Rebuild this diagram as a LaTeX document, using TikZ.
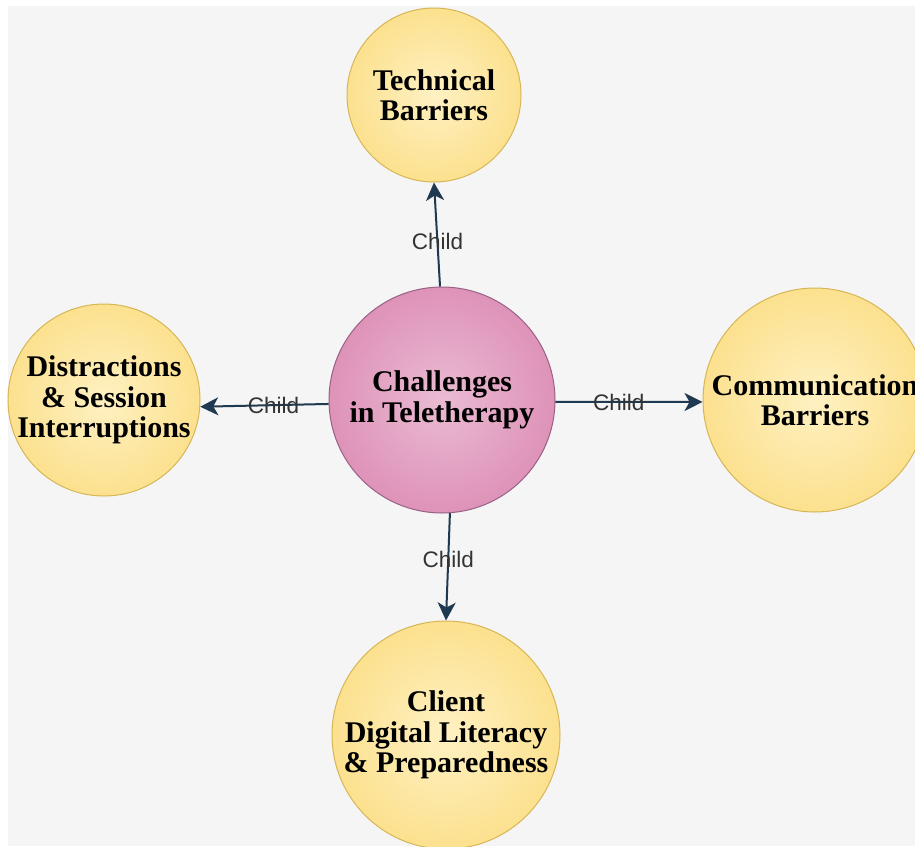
\documentclass[tikz,border=0pt]{standalone}
\usepackage{fontspec}
\setmainfont{Liberation Serif}
\newfontfamily\labelfont{Liberation Sans}
\usetikzlibrary{arrows.meta}

\definecolor{canvas}{HTML}{F5F5F5}
\definecolor{ylight}{HTML}{FEF1C2}
\definecolor{ymid}{HTML}{FBDD84}
\definecolor{ydark}{HTML}{F8CF5A}
\definecolor{yline}{HTML}{D6B656}
\definecolor{plight}{HTML}{EABBD3}
\definecolor{pmid}{HTML}{DC8AB3}
\definecolor{pdark}{HTML}{D5739D}
\definecolor{pline}{HTML}{996185}
\definecolor{edgecol}{HTML}{1F3A50}
\definecolor{lblcol}{HTML}{333333}

% radial fills: light centre, deeper rim
\pgfdeclareradialshading{yellowball}{\pgfpoint{0bp}{0bp}}{color(0bp)=(ylight); color(30bp)=(ymid); color(50bp)=(ydark); color(100bp)=(ydark)}
\pgfdeclareradialshading{pinkball}{\pgfpoint{0bp}{0bp}}{color(0bp)=(plight); color(30bp)=(pmid); color(50bp)=(pdark); color(100bp)=(pdark)}

\tikzset{
  topic/.style={circle, inner sep=0pt, draw=yline, line width=1pt, shading=yellowball},
  hub/.style={circle, inner sep=0pt, draw=pline, line width=1pt, shading=pinkball},
  title/.style={font=\fontsize{30}{30.5}\selectfont\bfseries, align=center, text=black, inner sep=0pt},
  edge/.style={draw=edgecol, line width=2pt, -{Stealth[length=18pt,width=18pt,inset=5pt]}},
  lbl/.style={font=\labelfont\fontsize{22.5}{24}\selectfont, text=lblcol, inner sep=0pt, pos=0.43}
}

\begin{document}
\begin{tikzpicture}[x=1pt, y=-1pt]
  \useasboundingbox (0,0) rectangle (915,846);
  \clip (0,0) rectangle (915,846);
  \fill[white] (0,0) rectangle (915,846);
  \fill[canvas] (8,6) rectangle (915,846);

  % central topic
  \node[hub, minimum size=226pt, label={[title]center:{Challenges\\in Teletherapy}}] (core) at (442,400) {};

  % surrounding topics
  \node[topic, minimum size=174pt, label={[title]center:{Technical\\Barriers}}] (tech) at (434,95) {};
  \node[topic, minimum size=224pt, label={[title]center:{Communication\\Barriers}}] (comm) at (815,400) {};
  \node[topic, minimum size=192pt, label={[title]center:{Distractions\\\& Session\\Interruptions}}] (dist) at (104,400) {};
  \node[topic, minimum size=228pt, label={[title]center:{Client\\Digital Literacy\\\& Preparedness}}] (client) at (446,735) {};

  % connectors
  \draw[edge] (core.91) -- node[lbl] (l1) {Child} (tech.270);
  \draw[edge] (core.-1) -- node[lbl] (l2) {Child} (comm.181);
  \draw[edge] (core.182) -- node[lbl] (l3) {Child} (dist.-4);
  \draw[edge] (core.-86) -- node[lbl] (l4) {Child} (client.90);
\end{tikzpicture}
\end{document}
